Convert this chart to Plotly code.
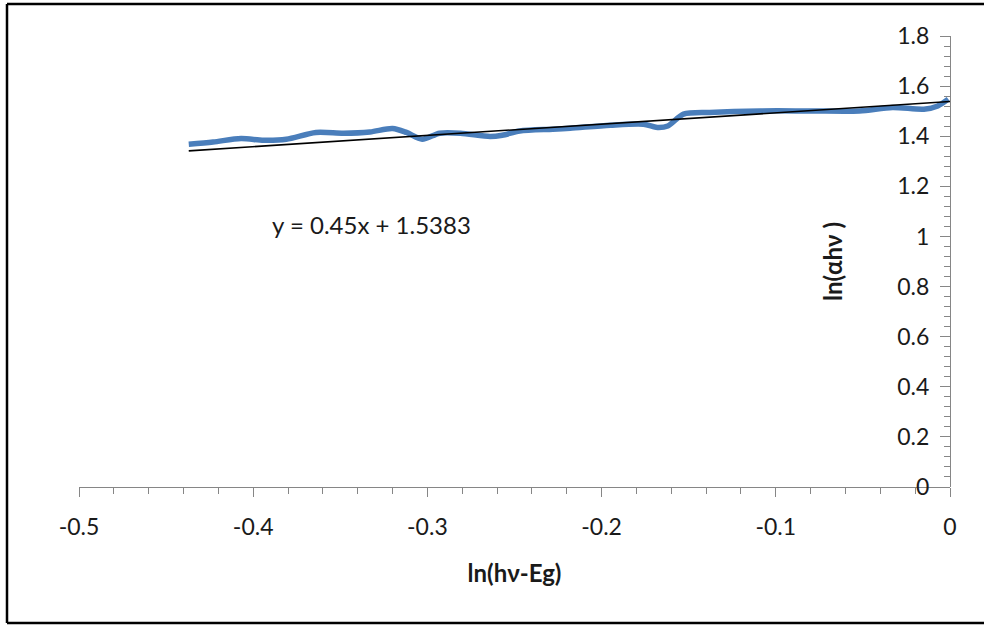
import plotly.graph_objects as go

# ---- data ----
x_vals = [-0.437, -0.423, -0.407, -0.394, -0.381, -0.364, -0.348, -0.333, -0.320,
          -0.312, -0.303, -0.293, -0.281, -0.264, -0.257, -0.247, -0.228, -0.218,
          -0.195, -0.176, -0.168, -0.162, -0.153, -0.138, -0.109, -0.080, -0.052,
          -0.033, -0.015, -0.007, -0.001]
y_vals = [1.368, 1.377, 1.391, 1.384, 1.388, 1.415, 1.412, 1.417, 1.431,
          1.415, 1.388, 1.412, 1.412, 1.399, 1.404, 1.421, 1.428, 1.432,
          1.444, 1.448, 1.435, 1.441, 1.488, 1.495, 1.501, 1.501, 1.501,
          1.515, 1.508, 1.521, 1.548]

trend_slope = 0.45
trend_intercept = 1.5383
trend_x = [-0.437, 0.0]
trend_y = [trend_slope * v + trend_intercept for v in trend_x]

x_ticks = [-0.5, -0.4, -0.3, -0.2, -0.1, 0]
x_tick_labels = ["-0.5", "-0.4", "-0.3", "-0.2", "-0.1", "0"]
y_ticks = [0, 0.2, 0.4, 0.6, 0.8, 1, 1.2, 1.4, 1.6, 1.8]
y_tick_labels = ["0", "0.2", "0.4", "0.6", "0.8", "1", "1.2", "1.4", "1.6", "1.8"]

equation_text = "y = 0.45x + 1.5383"
x_title = "ln(hν-Eg)"
y_title = "ln(αhν )"

# ---- layout geometry ----
W, H = 984, 626
L, R, T, B = 79, 950, 36, 487
FONT = "Lato"
TXT = "#1a1a1a"
AXIS_GRAY = "#868686"
TICK_SIZE = 23
TITLE_SIZE = 24

fig = go.Figure()
fig.add_trace(go.Scatter(x=x_vals, y=y_vals, mode="lines",
                         line=dict(color="#4a7ebb", width=5.5, shape="spline", smoothing=0.8),
                         showlegend=False, hoverinfo="skip"))
fig.add_trace(go.Scatter(x=trend_x, y=trend_y, mode="lines",
                         line=dict(color="black", width=1.6),
                         showlegend=False, hoverinfo="skip"))

fig.add_annotation(x=-0.332, y=1.048, xref="x", yref="y", text=equation_text,
                   showarrow=False, xanchor="center", yanchor="middle",
                   font=dict(family=FONT, size=TICK_SIZE + 1, color=TXT))

def px_x(p):
    return (p - L) / (R - L)

def px_y(p):
    return (B - p) / (B - T)

# frame: left, top and bottom edges (the right edge lies outside the picture)
frame = dict(color="black", width=2.5)
fig.add_shape(type="line", xref="paper", yref="paper",
              x0=px_x(7), x1=px_x(7), y0=px_y(623), y1=px_y(4), line=frame, layer="above")
fig.add_shape(type="line", xref="paper", yref="paper",
              x0=px_x(7), x1=px_x(1000), y0=px_y(4), y1=px_y(4), line=frame, layer="above")
fig.add_shape(type="line", xref="paper", yref="paper",
              x0=px_x(7), x1=px_x(1000), y0=px_y(623), y1=px_y(623), line=frame, layer="above")

fig.update_layout(
    width=W, height=H,
    margin=dict(l=L, r=W - R, t=T, b=H - B),
    paper_bgcolor="white", plot_bgcolor="white",
    font=dict(family=FONT, size=TICK_SIZE, color=TXT),
    xaxis=dict(range=[-0.5, 0], tickvals=x_ticks, ticktext=x_tick_labels,
               showgrid=False, zeroline=False, showline=True, linecolor=AXIS_GRAY, linewidth=1.3,
               ticks="outside", ticklen=9, tickcolor=AXIS_GRAY, tickwidth=1.3,
               ticklabelstandoff=10,
               minor=dict(dtick=0.02, tick0=0, ticks="outside", ticklen=6,
                          tickcolor=AXIS_GRAY, tickwidth=1.3, showgrid=False),
               tickfont=dict(family=FONT, size=TICK_SIZE, color=TXT),
               title=dict(text=x_title, standoff=26,
                          font=dict(family=FONT, size=TITLE_SIZE, color=TXT, weight="bold"))),
    yaxis=dict(range=[0, 1.8], tickvals=y_ticks, ticktext=y_tick_labels,
               anchor="free", position=1, side="left",
               showgrid=False, zeroline=False, showline=True, linecolor=AXIS_GRAY, linewidth=1.3,
               ticks="outside", ticklen=10, tickcolor=AXIS_GRAY, tickwidth=1.3,
               ticklabelstandoff=6,
               minor=dict(dtick=0.04, tick0=0, ticks="outside", ticklen=6,
                          tickcolor=AXIS_GRAY, tickwidth=1.3, showgrid=False),
               tickfont=dict(family=FONT, size=TICK_SIZE, color=TXT),
               title=dict(text=y_title, standoff=46,
                          font=dict(family=FONT, size=TITLE_SIZE, color=TXT, weight="bold"))),
)

fig.write_html("out.html", config={"displayModeBar": False},
               post_script="document.body.style.margin='0';"
                           "document.body.style.overflow='hidden';"
                           "document.documentElement.style.overflow='hidden';")
